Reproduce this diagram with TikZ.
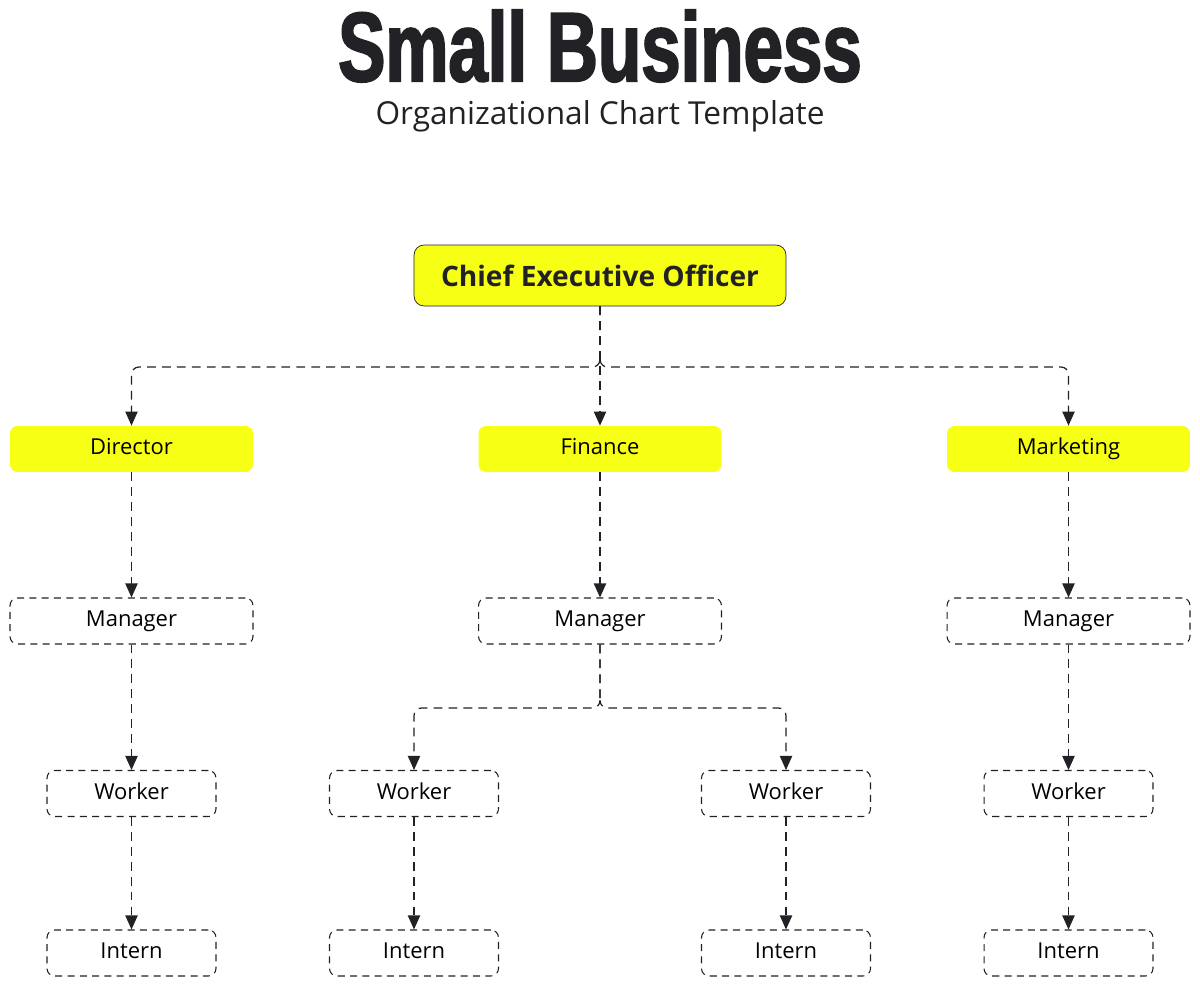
\documentclass[tikz,border=0pt]{standalone}
\usepackage{fontspec}
\setmainfont{Open Sans}
\newfontfamily\titlefont[FakeStretch=0.72,FakeBold=2]{Liberation Sans Bold}
\usetikzlibrary{arrows.meta}
\definecolor{chartyellow}{RGB}{247,255,20}
\definecolor{chartink}{RGB}{34,34,38}

\begin{document}
\begin{tikzpicture}[x=0.02cm,y=-0.02cm]

  \useasboundingbox (0,0) rectangle (1200,986);

  % node styles
  \tikzstyle{Head}=[
  draw=chartink,fill=chartyellow,
  minimum width=7.44cm,minimum height=1.22cm,
  font=\fontsize{16}{18}\selectfont\bfseries,text=chartink,
  shape=rectangle,rounded corners=2mm]

  \tikzstyle{Dept}=[
  fill=chartyellow,
  minimum width=4.86cm,minimum height=0.92cm,
  text height=1.7ex,text depth=0.45ex,
  font=\fontsize{12.5}{14}\selectfont,
  shape=rectangle,rounded corners=1.5mm]

  \tikzstyle{Staff}=[
  draw=chartink,dash pattern=on 4pt off 3pt,line width=0.6pt,
  minimum height=0.92cm,
  text height=1.7ex,text depth=0.45ex,
  font=\fontsize{12.5}{14}\selectfont,
  shape=rectangle,rounded corners=1.5mm]

  \tikzstyle{Link}=[
  draw=chartink,dash pattern=on 5pt off 3.5pt,line width=0.7pt,rounded corners=1.5mm,
  -{Triangle[width=7pt,length=8pt]}]

  % title
  \node[font=\titlefont\fontsize{56}{60}\selectfont,text=chartink,inner sep=0pt] (T) at (600,46) {Small Business};
  \node[font=\fontsize{18}{20}\selectfont,text=chartink,inner sep=0pt] (S) at (600,116) {Organizational Chart Template};

  % top
  \node[Head] (CEO) at (600,275.5) {Chief Executive Officer};

  % departments
  \node[Dept] (D) at (131.5,449) {Director};
  \node[Dept] (F) at (600,449) {Finance};
  \node[Dept] (M) at (1068.5,449) {Marketing};

  % managers
  \node[Staff,minimum width=4.86cm] (DM) at (131.5,621) {Manager};
  \node[Staff,minimum width=4.86cm] (FM) at (600,621) {Manager};
  \node[Staff,minimum width=4.86cm] (MM) at (1068.5,621) {Manager};

  % workers
  \node[Staff,minimum width=3.38cm] (DW)  at (131.5,793.5) {Worker};
  \node[Staff,minimum width=3.38cm] (FWa) at (414,793.5) {Worker};
  \node[Staff,minimum width=3.38cm] (FWb) at (786,793.5) {Worker};
  \node[Staff,minimum width=3.38cm] (MW)  at (1068.5,793.5) {Worker};

  % interns
  \node[Staff,minimum width=3.38cm] (DI)  at (131.5,953) {Intern};
  \node[Staff,minimum width=3.38cm] (FIa) at (414,953) {Intern};
  \node[Staff,minimum width=3.38cm] (FIb) at (786,953) {Intern};
  \node[Staff,minimum width=3.38cm] (MI)  at (1068.5,953) {Intern};

  \coordinate (X) at (600,367);
  \coordinate (Y) at (600,708);

  \draw[Link] (CEO.south) -- (F.north);
  \draw[Link] (CEO.south) |- (X) -| (D.north);
  \draw[Link] (CEO.south) |- (X) -| (M.north);

  \draw[Link] (D.south) -- (DM.north);
  \draw[Link] (F.south) -- (FM.north);
  \draw[Link] (M.south) -- (MM.north);

  \draw[Link] (DM.south) -- (DW.north);
  \draw[Link] (FM.south) |- (Y) -| (FWa.north);
  \draw[Link] (FM.south) |- (Y) -| (FWb.north);
  \draw[Link] (MM.south) -- (MW.north);

  \draw[Link] (DW.south) -- (DI.north);
  \draw[Link] (FWa.south) -- (FIa.north);
  \draw[Link] (FWb.south) -- (FIb.north);
  \draw[Link] (MW.south) -- (MI.north);

\end{tikzpicture}
\end{document}
